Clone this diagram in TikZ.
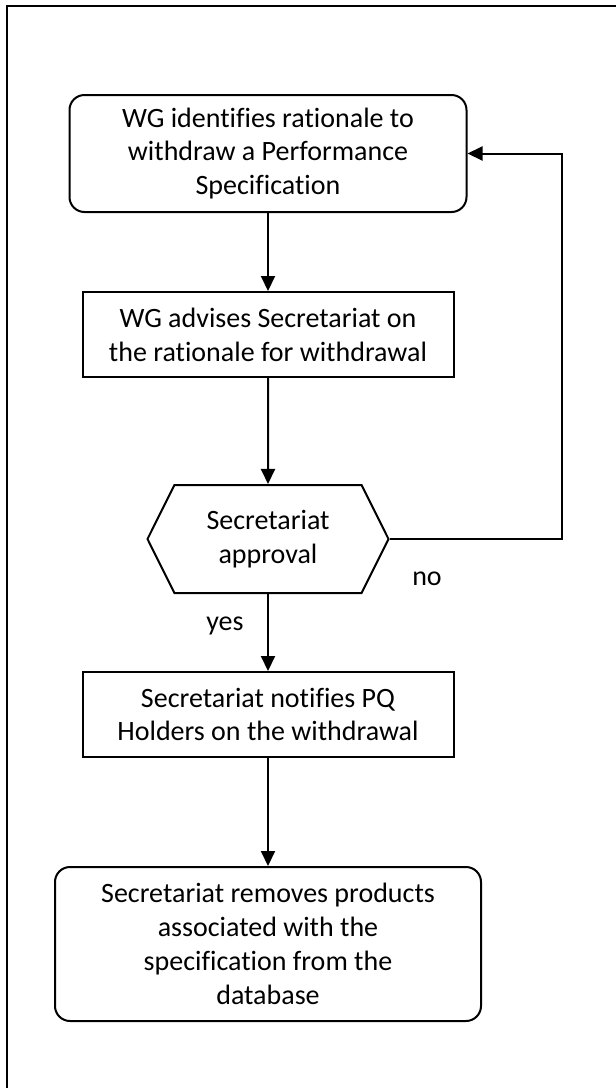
\documentclass[tikz,border=0pt]{standalone}
\usepackage{fontspec}
\setmainfont[Ligatures=NoCommon]{Carlito}
\usetikzlibrary{arrows.meta,shapes.symbols}
\tikzset{
  stepround/.style={draw=black,line width=1pt,rounded corners=7.5pt,align=center,inner sep=0pt},
  stepbox/.style={draw=black,line width=1pt,align=center,inner sep=0pt},
  decision/.style={draw=black,line width=1pt,align=center,inner sep=0pt,signal,signal to=west and east,signal pointer angle=127},
  flow/.style={line width=1pt,-{Triangle[width=7pt,length=7.5pt]}}
}
\begin{document}
\begin{tikzpicture}[x=0.5pt,y=-0.5pt,font=\fontsize{14}{16.9}\selectfont]
  \useasboundingbox (0,0) rectangle (616,1088);
  \clip (0,0) rectangle (616,1088);
  \draw[line width=1.4pt] (7,6) rectangle (660,1130);

  \node[stepround,minimum width=198.5pt,minimum height=58.5pt] (identify) at (268,153.5) {WG identifies rationale to\\withdraw a Performance\\Specification};
  \node[stepbox,minimum width=185.5pt,minimum height=42.5pt] (advise) at (268,334.5) {WG advises Secretariat on\\the rationale for withdrawal};
  \node[decision,minimum width=120.5pt,minimum height=54pt] (approval) at (268,539) {Secretariat\\approval};
  \node[stepbox,minimum width=185.5pt,minimum height=42.5pt] (notify) at (268,714.5) {Secretariat notifies PQ\\Holders on the withdrawal};
  \node[stepround,minimum width=213pt,minimum height=77pt] (remove) at (268,944) {Secretariat removes products\\associated with the\\specification from the\\database};

  \node (no) at (427,579) {no};
  \node (yes) at (225,626) {yes};
  \coordinate (loop) at (562,0);

  \path [flow] (identify) edge (advise);
  \path [flow] (advise) edge (approval);
  \path [flow] (approval) edge (notify);
  \path [flow] (notify) edge (remove);
  \draw [flow] (approval.east) -- (approval.east -| loop) |- (identify.east);
\end{tikzpicture}
\end{document}
